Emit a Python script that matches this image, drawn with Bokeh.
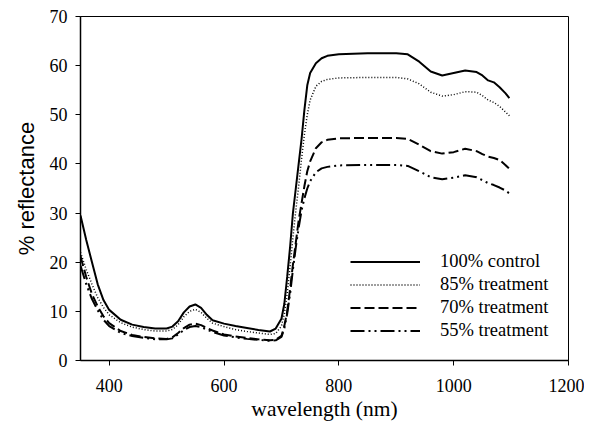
from bokeh.plotting import figure
from bokeh.models import Range1d, FixedTicker, Legend, LegendItem
from bokeh.embed import file_html
from bokeh.resources import INLINE

wavelength = [350, 360, 370, 380, 390, 400, 420, 440, 460, 480, 500, 510, 520, 530, 540, 550,
              560, 570, 580, 600, 620, 640, 660, 680, 690, 700, 705, 710, 715, 720, 725, 730,
              735, 740, 745, 750, 760, 770, 780, 800, 850, 900, 920, 940, 960, 980, 1000, 1020,
              1040, 1050, 1060, 1070, 1080, 1090, 1097]

control_100 = [29.5, 24.5, 20.0, 15.5, 12.3, 10.3, 8.3, 7.3, 6.8, 6.5, 6.5, 6.9, 8.0, 9.8, 11.0, 11.4,
               10.7, 9.3, 8.2, 7.5, 7.0, 6.6, 6.2, 5.9, 6.5, 8.5, 11.5, 17.0, 23.0, 30.0, 35.0, 40.0,
               45.0, 51.0, 56.0, 58.5, 60.5, 61.5, 62.0, 62.3, 62.5, 62.5, 62.3, 60.8, 58.8, 58.0, 58.5, 59.0,
               58.7, 58.0, 57.0, 56.6, 55.6, 54.4, 53.4]

treat_85 = [22.0, 18.5, 15.5, 12.8, 10.8, 9.3, 7.7, 6.8, 6.3, 6.0, 6.0, 6.3, 7.3, 8.9, 10.0, 10.4,
            9.8, 8.6, 7.6, 6.9, 6.3, 5.9, 5.6, 5.3, 5.5, 7.0, 9.5, 13.5, 19.0, 25.0, 30.5, 35.5,
            41.0, 46.0, 50.0, 53.0, 55.8, 56.8, 57.2, 57.5, 57.6, 57.6, 57.3, 56.3, 54.6, 53.8, 54.1, 54.7,
            54.6, 53.9, 53.0, 52.5, 51.7, 50.6, 49.8]

treat_70 = [21.2, 17.0, 13.5, 11.0, 9.0, 7.6, 6.0, 5.2, 4.8, 4.5, 4.4, 4.7, 5.6, 6.6, 7.3, 7.5,
            7.2, 6.6, 6.1, 5.3, 4.9, 4.6, 4.3, 4.1, 4.2, 5.0, 7.0, 10.0, 14.5, 19.5, 24.0, 28.5,
            32.0, 35.5, 38.5, 40.5, 43.2, 44.4, 44.9, 45.2, 45.3, 45.3, 45.1, 43.9, 42.6, 42.1, 42.4, 43.1,
            42.6, 42.0, 41.5, 41.2, 40.8, 39.8, 39.0]

treat_55 = [19.3, 15.5, 12.5, 10.2, 8.3, 7.0, 5.6, 5.0, 4.6, 4.3, 4.3, 4.5, 5.3, 6.2, 6.8, 7.0,
            6.8, 6.3, 5.8, 5.1, 4.7, 4.4, 4.2, 4.0, 4.1, 4.8, 6.5, 9.5, 13.5, 18.5, 23.0, 27.0,
            30.5, 33.0, 35.0, 36.5, 38.3, 39.1, 39.4, 39.7, 39.8, 39.8, 39.6, 38.5, 37.3, 36.9, 37.2, 37.7,
            37.3, 36.7, 36.1, 35.7, 35.2, 34.6, 34.0]

series_labels = ["100% control", "85% treatment", "70% treatment", "55% treatment"]
x_ticks = [400, 600, 800, 1000, 1200]
y_ticks = [0, 10, 20, 30, 40, 50, 60, 70]

SERIF = "Liberation Serif"

p = figure(width=584, height=426, output_backend="svg", toolbar_location=None,
           x_range=Range1d(350, 1200), y_range=Range1d(0, 70))
p.min_border_left = 80
p.min_border_right = 16
p.min_border_top = 16
p.min_border_bottom = 66
p.background_fill_color = "white"
p.border_fill_color = "white"
p.grid.visible = False
p.outline_line_color = "black"
p.outline_line_width = 1

styles = [
    dict(line_dash="solid", line_width=2),
    dict(line_dash="1 2", line_width=1.5),
    dict(line_dash="10 4", line_width=2),
    dict(line_dash="14 4 2 4 2 4", line_width=2),
]
items = []
for ys, lab, st in zip([control_100, treat_85, treat_70, treat_55], series_labels, styles):
    r = p.line(wavelength, ys, line_color="black", **st)
    items.append(LegendItem(label=lab, renderers=[r]))

legend = Legend(items=items, location=(270, 18))
legend.border_line_color = None
legend.background_fill_alpha = 0
legend.padding = 0
legend.margin = 0
legend.spacing = 0
legend.glyph_width = 70
legend.glyph_height = 23
legend.label_height = 23
legend.label_standoff = 20
legend.label_text_font = SERIF
legend.label_text_font_size = "18.5px"
legend.label_text_color = "black"
p.add_layout(legend, "center")

for ax in (p.xaxis[0], p.yaxis[0]):
    ax.axis_line_color = "black"
    ax.axis_line_width = 1.5
    ax.major_tick_line_color = "black"
    ax.major_tick_line_width = 1
    ax.major_tick_in = 0
    ax.major_tick_out = 5
    ax.minor_tick_line_color = None
    ax.major_label_text_font = SERIF
    ax.major_label_text_font_size = "18px"
    ax.major_label_text_color = "black"
    ax.axis_label_text_font_style = "normal"
    ax.axis_label_text_color = "black"

p.xaxis[0].ticker = FixedTicker(ticks=x_ticks)
p.yaxis[0].ticker = FixedTicker(ticks=y_ticks)
p.xaxis[0].major_label_standoff = 13
p.yaxis[0].major_label_standoff = 8

p.xaxis[0].axis_label = "wavelength (nm)"
p.xaxis[0].axis_label_text_font = SERIF
p.xaxis[0].axis_label_text_font_size = "21.5px"
p.xaxis[0].axis_label_standoff = 2

p.yaxis[0].axis_label = "% reflectance"
p.yaxis[0].axis_label_text_font = "Liberation Sans"
p.yaxis[0].axis_label_text_font_size = "22px"
p.yaxis[0].axis_label_standoff = 8

open("out.html", "w").write(file_html(p, INLINE))
